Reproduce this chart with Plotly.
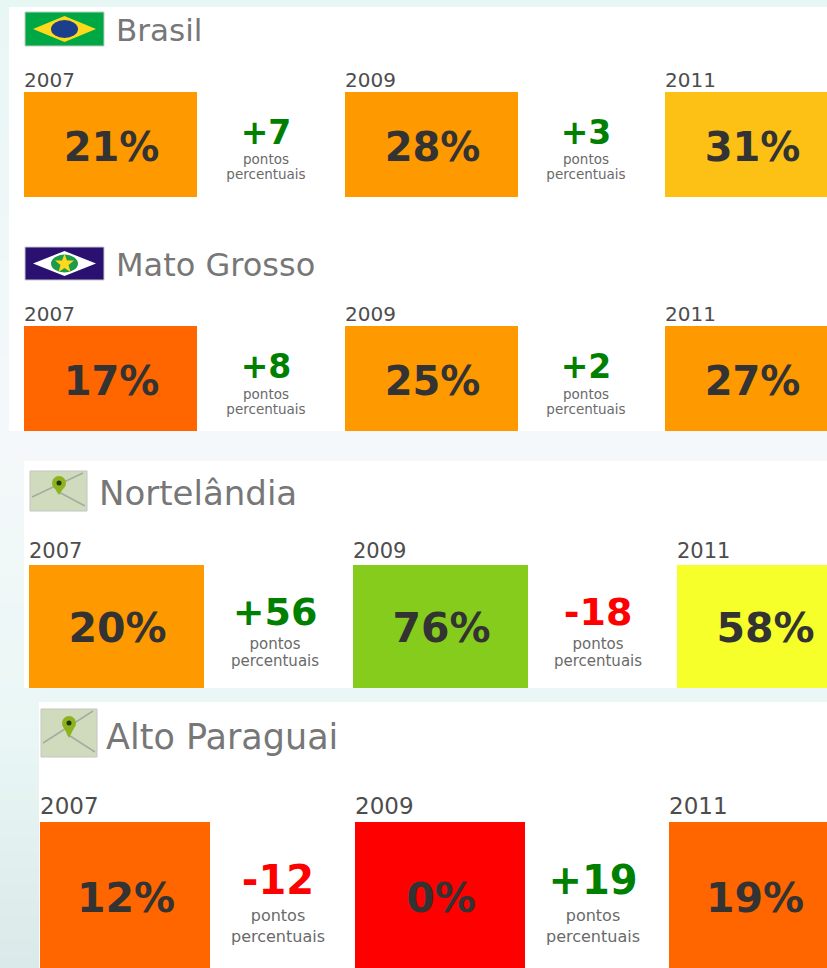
import plotly.graph_objects as go

# ---------- data ----------
regions = ["Brasil", "Mato Grosso", "Nortelândia", "Alto Paraguai"]
years = ["2007", "2009", "2011"]
brasil_values = [21, 28, 31]
mato_grosso_values = [17, 25, 27]
nortelandia_values = [20, 76, 58]
alto_paraguai_values = [12, 0, 19]
brasil_deltas = ["+7", "+3"]
mato_grosso_deltas = ["+8", "+2"]
nortelandia_deltas = ["+56", "-18"]
alto_paraguai_deltas = ["-12", "+19"]
unit_lines = ["pontos", "percentuais"]

# ---------- styles / layout ----------
ORANGE, DARK, AMBER, GREEN, YELLOW, RED = "#FF9900", "#FF6600", "#FDC116", "#85CC1C", "#F7FF2A", "#FF0000"
brasil_colors = [ORANGE, ORANGE, AMBER]
mato_grosso_colors = [DARK, ORANGE, ORANGE]
nortelandia_colors = [ORANGE, GREEN, YELLOW]
alto_paraguai_colors = [DARK, RED, DARK]

panels = [
    dict(name=regions[0], vals=brasil_values, deltas=brasil_deltas, cols=brasil_colors,
         lefts=[24, 345, 665], w=173, top=92, bottom=197, year_y=80, val_y=146, dx=[266, 586],
         dy=132, py=159, qy=174, title_x=116, title_y=30, tfs=31, vfs=40, dfs=33, ufs=13.5, yfs=20),
    dict(name=regions[1], vals=mato_grosso_values, deltas=mato_grosso_deltas, cols=mato_grosso_colors,
         lefts=[24, 345, 665], w=173, top=326, bottom=431, year_y=314, val_y=380, dx=[266, 586],
         dy=366, py=394, qy=409, title_x=116, title_y=264, tfs=32, vfs=40, dfs=33, ufs=13.5, yfs=20),
    dict(name=regions[2], vals=nortelandia_values, deltas=nortelandia_deltas, cols=nortelandia_colors,
         lefts=[29, 353, 677], w=175, top=565, bottom=688, year_y=550, val_y=627, dx=[275, 598],
         dy=611, py=643, qy=660, title_x=99, title_y=492, tfs=34, vfs=41, dfs=38, ufs=15, yfs=21),
    dict(name=regions[3], vals=alto_paraguai_values, deltas=alto_paraguai_deltas, cols=alto_paraguai_colors,
         lefts=[40, 355, 669], w=170, top=822, bottom=968, year_y=805, val_y=897, dx=[278, 593],
         dy=879, py=915, qy=936, title_x=106, title_y=736, tfs=35, vfs=41, dfs=40, ufs=16, yfs=23),
]
whites = [(9, 7, 827, 431), (24, 461, 827, 688), (39, 702, 827, 968)]
background_stops_y = [0, 430, 720, 968]
background_levels = [0.0, 1 / 3, 2 / 3, 1.0]

fig = go.Figure()
shapes = []

fig.add_trace(go.Heatmap(
    x=[0, 827], y=background_stops_y, z=[[v, v] for v in background_levels],
    zsmooth="best", zmin=0, zmax=1, showscale=False, hoverinfo="skip",
    colorscale=[[0, "#E7F7F4"], [1 / 3, "#F5F8FA"], [2 / 3, "#EAF7F5"], [1, "#DAE9E9"]],
))


def rect(x0, y0, x1, y1, fill, line=None):
    shapes.append(dict(type="rect", x0=x0, y0=y0, x1=x1, y1=y1, fillcolor=fill, layer="above",
                       line=dict(color=line or fill, width=1 if line else 0)))


def path(d, fill, line=None, width=0):
    shapes.append(dict(type="path", path=d, fillcolor=fill, layer="above",
                       line=dict(color=line or fill, width=width)))


def ellipse(cx, cy, rx, ry, fill):
    shapes.append(dict(type="circle", x0=cx - rx, x1=cx + rx, y0=cy - ry, y1=cy + ry, fillcolor=fill,
                       layer="above", line=dict(width=0)))


def text(x, y, s, size, color, bold=False, pos="middle center"):
    fig.add_trace(go.Scatter(x=[x], y=[y + size * 0.12], text=[f"<b>{s}</b>" if bold else s], mode="text",
                             textposition=pos, hoverinfo="skip", showlegend=False,
                             textfont=dict(family="DejaVu Sans", size=size, color=color)))


def bar(x0, y0, x1, y1, color):
    fig.add_trace(go.Bar(x=[(x0 + x1) / 2], y=[y1 - y0], base=[y0], width=[x1 - x0],
                         marker=dict(color=color, line=dict(width=0)), showlegend=False, hoverinfo="skip"))


def flag(x0, y0, x1, y1, field, diamond, disc):
    rect(x0, y0, x1, y1, field, line="#c8c8c8")
    cx, cy = (x0 + x1) / 2, (y0 + y1) / 2
    path(f"M{x0+8},{cy} L{cx},{y0+4} L{x1-8},{cy} L{cx},{y1-4} Z", diamond)
    ellipse(cx, cy, 13.5, 9, disc)


def map_icon(x0, y0, x1, y1, pin_x, pin_y, pin_tip):
    rect(x0, y0, x1, y1, "#D0DBBD", line="#c4c4c4")
    shapes.append(dict(type="line", x0=x0 + 2, y0=y1 - 14, x1=x1 - 4, y1=y0 + 2, layer="above",
                       line=dict(color="#A3AC9F", width=1.5)))
    shapes.append(dict(type="line", x0=pin_x - 2, y0=pin_tip - 4, x1=x1 - 2, y1=y1 - 5, layer="above",
                       line=dict(color="#A3AC9F", width=1.5)))
    path(f"M{pin_x-6.5},{pin_y+2} L{pin_x},{pin_tip} L{pin_x+6.5},{pin_y+2} Z", "#8DB31E")
    ellipse(pin_x, pin_y, 7, 7, "#8DB31E")
    ellipse(pin_x, pin_y, 2.5, 2.5, "#223311")
    text((x0 + x1) / 2, y1 - 9, "Google", 10, "#A9B59A")


for x0, y0, x1, y1 in whites:
    bar(x0, y0, x1, y1, "#FFFFFF")

for p in panels:
    for i, year in enumerate(years):
        left = p["lefts"][i]
        bar(left, p["top"], left + p["w"], p["bottom"], p["cols"][i])
        text(left, p["year_y"], year, p["yfs"], "#4d4d4d", pos="middle right")
        text(left + p["w"] / 2 + 1, p["val_y"], f"{p['vals'][i]}%", p["vfs"], "#333333", bold=True)
    for j, d in enumerate(p["deltas"]):
        text(p["dx"][j], p["dy"], d, p["dfs"], "#008000" if d[0] == "+" else "#FF0000", bold=True)
        text(p["dx"][j], p["py"], unit_lines[0], p["ufs"], "#6a6a6a")
        text(p["dx"][j], p["qy"], unit_lines[1], p["ufs"], "#6a6a6a")
    text(p["title_x"], p["title_y"], p["name"], p["tfs"], "#777777", pos="middle right")

flag(25, 12, 104, 46, "#00A845", "#FFD91C", "#1B3F8B")
flag(25, 247, 104, 280, "#2A1070", "#FFFFFF", "#1E9A4A")
path("M64.5,254 L67,260.5 L74,260.5 L68.5,265 L70.5,272 L64.5,268 L58.5,272 L60.5,265 L55,260.5 L62,260.5 Z", "#FFD91C")
map_icon(30, 471, 87, 511, 59, 483, 495)
map_icon(41, 709, 97, 757, 69, 723, 738)

fig.update_layout(
    width=827, height=968, margin=dict(l=0, r=0, t=0, b=0), autosize=False,
    paper_bgcolor="#EEF8F7", plot_bgcolor="rgba(0,0,0,0)", barmode="overlay", showlegend=False,
    shapes=shapes,
    xaxis=dict(range=[0, 827], visible=False, fixedrange=True),
    yaxis=dict(range=[968, 0], visible=False, fixedrange=True),
)
fig.write_html("out.html", config=dict(displayModeBar=False),
               post_script="document.body.style.margin='0';document.documentElement.style.overflow='hidden';")
